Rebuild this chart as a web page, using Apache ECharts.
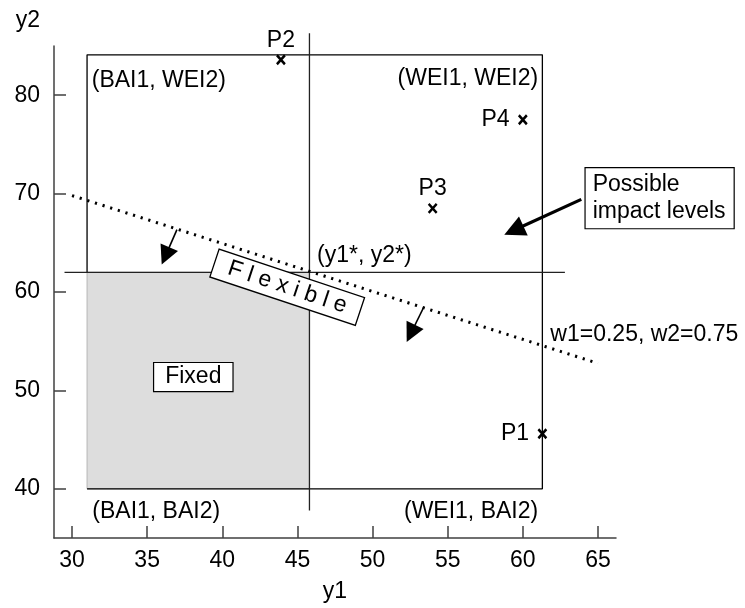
<!DOCTYPE html>
<html><head><meta charset="utf-8">
<script src="https://cdn.jsdelivr.net/npm/echarts@6/dist/echarts.min.js"></script>
<style>html,body{margin:0;padding:0;background:#fff}#c{width:745px;height:608px}</style>
</head><body><div id="c"></div>
<script>
// ---- data ----
const xTicks = [30, 35, 40, 45, 50, 55, 60, 65];
const yTicks = [40, 50, 60, 70, 80];
const pointNames = ['P1', 'P2', 'P3', 'P4'];
const pointY1 = [61.3, 43.9, 54.0, 60.0];
const pointY2 = [45.6, 83.6, 68.5, 77.5];
const pointLabelSide = ['left', 'top', 'top', 'left'];
const bai1 = 31, wei1 = 61.3, bai2 = 40, wei2 = 84.1;
const y1Star = 45.8, y2Star = 62;
const starVLineY2 = [37.8, 86.3];
const starHLineY1 = [29.5, 62.8];
const weightLineY1 = [30, 65];
const weightLineY2 = [69.8, 52.75];
const arrowFromY1 = [36.98, 53.42, 63.89];
const arrowFromY2 = [66.34, 58.5, 69.41];
const arrowToY1 = [36.22, 52.55, 59.40];
const arrowToY2 = [63.67, 55.79, 66.27];
const cornerLabels = ['(BAI1, WEI2)', '(WEI1, WEI2)', '(BAI1, BAI2)', '(WEI1, BAI2)'];
const cornerY1 = [31.31, 61.02, 31.35, 61.02];
const cornerY2 = [81.5, 81.7, 37.66, 37.66];
const cornerAlign = ['left', 'right', 'left', 'right'];
const starLabel = '(y1*, y2*)';
const starLabelPos = [46.31, 63.65];
const weightLabel = 'w1=0.25, w2=0.75';
const weightLabelPos = [61.83, 55.69];
const fixedLabel = 'Fixed';
const fixedLabelPos = [38.07, 51.35];
const flexLabel = 'F l e x i b l e';
const flexLabelPos = [44.32, 60.48];
const possibleLabel = 'Possible\nimpact levels';
const possibleLabelPos = [64.18, 69.54];

// ---- chart ----
const FONT = '"Liberation Sans", Arial, Helvetica, sans-serif';
const TXT = { fontFamily: FONT, fontSize: 23, color: '#000', textBorderWidth: 0, opacity: 1 };
const AX = '#404040';

function txt(pos, text, extra) {
  return {
    value: pos,
    label: Object.assign({ show: true, position: 'inside', formatter: text }, TXT, extra || {})
  };
}

const textData = [];
cornerLabels.forEach((t, i) => textData.push(txt([cornerY1[i], cornerY2[i]], t, { align: cornerAlign[i], verticalAlign: 'middle' })));
textData.push(txt(starLabelPos, starLabel, { align: 'left', verticalAlign: 'middle' }));
textData.push(txt(weightLabelPos, weightLabel, { align: 'left', verticalAlign: 'middle' }));
textData.push(txt(fixedLabelPos, fixedLabel, { backgroundColor: '#fff', borderColor: '#000', borderWidth: 1.2, padding: [2, 11, 1, 11], lineHeight: 25 }));
textData.push(txt(flexLabelPos, flexLabel, { backgroundColor: '#fff', borderColor: '#000', borderWidth: 1.3, padding: [1, 14, 1, 14], lineHeight: 26, rotate: -18.4 }));
textData.push(txt(possibleLabelPos, possibleLabel, { align: 'left', verticalAlign: 'middle', backgroundColor: '#fff', borderColor: '#000', borderWidth: 1.2, padding: [3, 8, 3, 7], lineHeight: 27 }));

const lineBase = { type: 'line', symbol: 'none', clip: false, silent: true, z: 3, animation: false };

const option = {
  animation: false,
  grid: { left: 54, right: 129, top: 46, bottom: 70 },
  xAxis: {
    type: 'value', min: 28.8, max: 66.2,
    splitLine: { show: false },
    axisLine: { show: true, onZero: false, lineStyle: { color: AX, width: 1.5 } },
    axisTick: { show: true, inside: true, length: 12, customValues: xTicks, lineStyle: { color: AX, width: 1.5 } },
    axisLabel: { customValues: xTicks, margin: 11, fontSize: 23, fontFamily: FONT, color: '#000' },
    name: 'y1', nameLocation: 'middle', nameGap: 42,
    nameTextStyle: { fontSize: 23, fontFamily: FONT, color: '#000' }
  },
  yAxis: {
    type: 'value', min: 35, max: 85,
    splitLine: { show: false },
    axisLine: { show: true, onZero: false, lineStyle: { color: AX, width: 1.5 } },
    axisTick: { show: true, inside: true, length: 12, customValues: yTicks, lineStyle: { color: AX, width: 1.5 } },
    axisLabel: { customValues: yTicks, margin: 14, fontSize: 23, fontFamily: FONT, color: '#000' },
    name: 'y2', nameLocation: 'end', nameGap: 14,
    nameTextStyle: { fontSize: 23, fontFamily: FONT, color: '#000', align: 'right', verticalAlign: 'bottom', padding: [0, 14, 0, 0] }
  },
  series: [
    {
      type: 'line', data: [], z: 1, silent: true,
      markArea: {
        silent: true,
        itemStyle: { color: '#dddddd', borderColor: '#b5b5b5', borderWidth: 1 },
        data: [[{ coord: [bai1, bai2] }, { coord: [y1Star, y2Star] }]]
      }
    },
    Object.assign({}, lineBase, {
      data: [[bai1, y2Star], [bai1, wei2], [wei1, wei2], [wei1, bai2], [bai1, bai2]],
      lineStyle: { color: '#000', width: 1.3 }
    }),
    Object.assign({}, lineBase, {
      data: [[y1Star, starVLineY2[0]], [y1Star, starVLineY2[1]]],
      lineStyle: { color: '#222', width: 1.3 }
    }),
    Object.assign({}, lineBase, {
      data: [[starHLineY1[0], y2Star], [starHLineY1[1], y2Star]],
      lineStyle: { color: '#222', width: 1.3 }
    }),
    Object.assign({}, lineBase, {
      data: weightLineY1.map((v, i) => [v, weightLineY2[i]]),
      lineStyle: { color: '#000', width: 3, type: [2.2, 5.8], cap: 'butt' }
    }),
    {
      type: 'lines', coordinateSystem: 'cartesian2d', silent: true, z: 4,
      symbol: ['none', 'triangle'], symbolSize: [12, 19],
      lineStyle: { color: '#000', width: 1.6, opacity: 1 },
      data: [0, 1].map(i => ({ coords: [[arrowFromY1[i], arrowFromY2[i]], [arrowToY1[i], arrowToY2[i]]] }))
    },
    {
      type: 'lines', coordinateSystem: 'cartesian2d', silent: true, z: 4,
      symbol: ['none', 'triangle'], symbolSize: [14, 21],
      lineStyle: { color: '#000', width: 3.2, opacity: 1 },
      data: [2].map(i => ({ coords: [[arrowFromY1[i], arrowFromY2[i]], [arrowToY1[i], arrowToY2[i]]] }))
    },
    {
      type: 'scatter', silent: true, z: 5, clip: false,
      symbol: 'path://M0,0L8,9M8,0L0,9', symbolSize: [8, 9],
      itemStyle: { color: '#000', borderColor: '#000', borderWidth: 2.6, opacity: 1 },
      data: pointNames.map((n, i) => ({
        value: [pointY1[i], pointY2[i]], name: n,
        label: Object.assign({ show: true, position: pointLabelSide[i], distance: pointLabelSide[i] === 'top' ? 2 : 8, formatter: '{b}' }, TXT)
      }))
    },
    {
      type: 'scatter', silent: true, z: 6, clip: false,
      symbolSize: 0, itemStyle: { color: 'transparent' },
      data: textData
    }
  ]
};
const chart = echarts.init(document.getElementById('c'), null, { renderer: 'canvas' });
chart.setOption(option);
</script>
</body></html>
